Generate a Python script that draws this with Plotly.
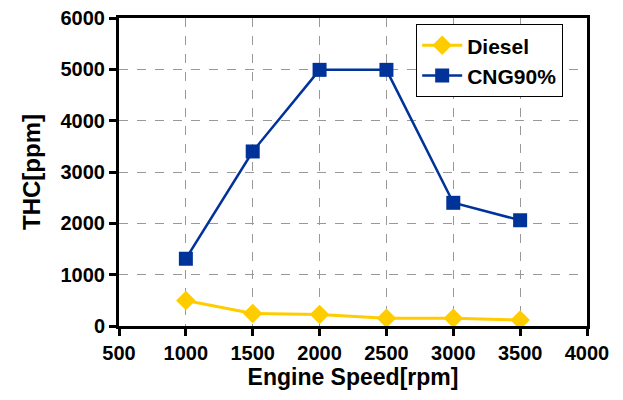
import plotly.graph_objects as go

speed = [1000, 1500, 2000, 2500, 3000, 3500]
diesel = [495, 245, 225, 150, 150, 115]
cng90 = [1310, 3400, 4990, 4990, 2400, 2060]
x_ticks = [500, 1000, 1500, 2000, 2500, 3000, 3500, 4000]
y_ticks = [0, 1000, 2000, 3000, 4000, 5000, 6000]

FONT = "Liberation Sans, Arial, sans-serif"

fig = go.Figure()
fig.add_trace(go.Scatter(
    x=speed, y=diesel, name="<b>Diesel</b>", mode="lines+markers",
    line=dict(color="#FFCC00", width=3),
    marker=dict(symbol="diamond", size=15, color="#FFCC00"),
))
fig.add_trace(go.Scatter(
    x=speed, y=cng90, name="<b>CNG90%</b>", mode="lines+markers",
    line=dict(color="#003399", width=2.5),
    marker=dict(symbol="square", size=14, color="#003399"),
))

axis_common = dict(
    showline=True, linecolor="black", linewidth=3, mirror=True,
    ticks="outside", ticklen=7, tickwidth=3, tickcolor="black",
    showgrid=True, gridcolor="#999999", griddash="dash", gridwidth=1,
    zeroline=False,
    tickfont=dict(family=FONT, size=20, color="black", weight="bold"),
)

fig.update_layout(
    width=623, height=400,
    margin=dict(l=119, r=36, t=18, b=74, autoexpand=False),
    paper_bgcolor="white", plot_bgcolor="white",
    font=dict(family=FONT, color="black"),
    xaxis=dict(range=[500, 4000], tickvals=x_ticks,
               title=dict(text="<b>Engine Speed[rpm]</b>", font=dict(family=FONT, size=23), standoff=2),
               **axis_common),
    yaxis=dict(range=[0, 6000], tickvals=y_ticks,
               title=dict(text="<b>THC[ppm]</b>", font=dict(family=FONT, size=24), standoff=14),
               **axis_common),
    legend=dict(x=0.635, y=0.98, xanchor="left", yanchor="top",
                bgcolor="white", bordercolor="black", borderwidth=1,
                font=dict(family=FONT, size=21, color="black"),
                itemwidth=40, tracegroupgap=2),
    showlegend=True,
)

fig.write_html("out.html", config={"displayModeBar": False},
               post_script="document.body.style.margin='0';")
